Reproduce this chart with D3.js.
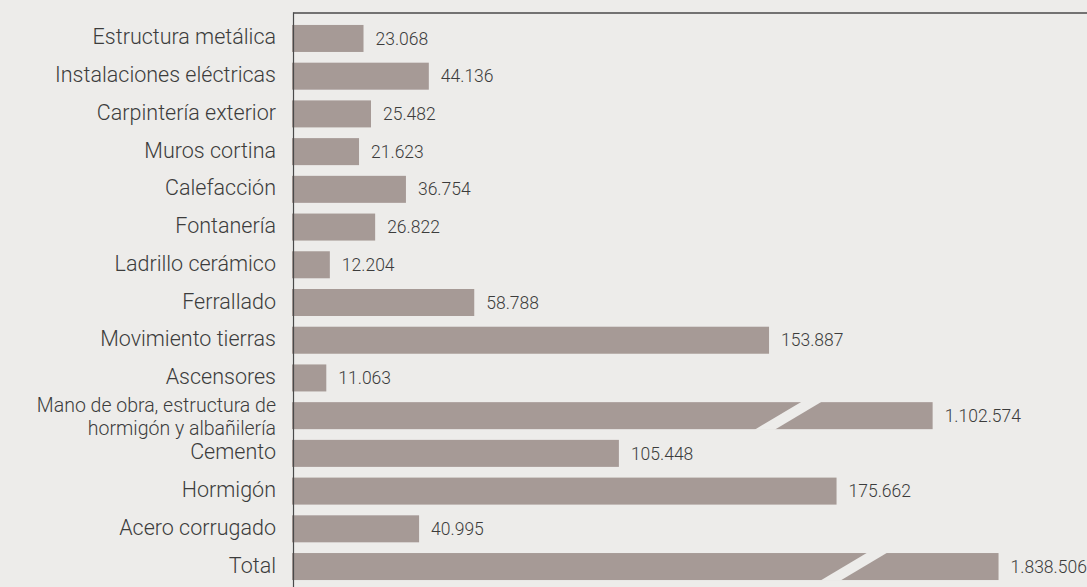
<!DOCTYPE html>
<html>
<head>
<meta charset="utf-8">
<script src="https://cdn.jsdelivr.net/npm/d3@7"></script>
<style>
  html, body { margin: 0; padding: 0; background: #edecea; }
  svg { display: block; }
  text { font-family: Roboto, "Noto Sans", sans-serif; font-weight: 300; fill: #3c3c3c; }
</style>
</head>
<body>
<svg id="chart" width="1087" height="587"></svg>
<script>
// ---- data ----
const categories = [
  "Estructura metálica",
  "Instalaciones eléctricas",
  "Carpintería exterior",
  "Muros cortina",
  "Calefacción",
  "Fontanería",
  "Ladrillo cerámico",
  "Ferrallado",
  "Movimiento tierras",
  "Ascensores",
  "Mano de obra, estructura de|hormigón y albañilería",
  "Cemento",
  "Hormigón",
  "Acero corrugado",
  "Total"
];
const values = [23.068, 44.136, 25.482, 21.623, 36.754, 26.822, 12.204, 58.788,
  153.887, 11.063, 1102.574, 105.448, 175.662, 40.995, 1838.506];
const valueLabels = ["23.068", "44.136", "25.482", "21.623", "36.754", "26.822", "12.204",
  "58.788", "153.887", "11.063", "1.102.574", "105.448", "175.662", "40.995", "1.838.506"];
const brokenBars = ["Mano de obra, estructura de|hormigón y albañilería", "Total"];
// axis break: values above breakValue are compressed
const breakValue = 180;
const maxValue = 2000;

// ---- layout ----
const W = 1087, H = 587;
const axisX = 293.5, topY = 13;
const svg = d3.select("#chart");
svg.append("rect").attr("width", W).attr("height", H).attr("fill", "#edecea");

const x = d3.scaleLinear()
  .domain([0, breakValue, maxValue])
  .range([292, 850, 1013]);

const y = d3.scaleBand()
  .domain(categories)
  .range([19.6, 585.4])
  .paddingInner(0.284)
  .paddingOuter(0.142);

const rows = categories.map((c, i) => ({ c, v: values[i], label: valueLabels[i] }));

const barColor = "#a69a96";
const bg = "#edecea";

// bars
svg.append("g").selectAll("rect").data(rows).join("rect")
  .attr("x", x(0))
  .attr("y", d => y(d.c))
  .attr("width", d => x(d.v) - x(0))
  .attr("height", y.bandwidth())
  .attr("fill", barColor);

// break gaps
svg.append("g").selectAll("path").data(rows.filter(d => brokenBars.includes(d.c))).join("path")
  .attr("d", d => {
    const e = x(d.v), t = y(d.c) - 0.5, b = y(d.c) + y.bandwidth() + 0.5;
    return `M${e - 131},${t} L${e - 111},${t} L${e - 158},${b} L${e - 178},${b} Z`;
  })
  .attr("fill", bg);

// value labels
svg.append("g").selectAll("text").data(rows).join("text")
  .attr("x", d => x(d.v) + 12)
  .attr("y", d => y(d.c) + y.bandwidth() / 2)
  .attr("dy", "0.35em")
  .attr("font-size", 17.5)
  .text(d => d.label);

// category labels
const labG = svg.append("g");
rows.forEach(d => {
  const lines = d.c.split("|");
  const multi = lines.length > 1;
  const fs = multi ? 19.5 : 21.5;
  const lh = multi ? 23 : 0;
  const cy = y(d.c) + y.bandwidth() / 2 + (multi ? 1.2 : -1.5);
  lines.forEach((ln, k) => {
    labG.append("text")
      .attr("text-anchor", "end")
      .attr("font-size", fs)
      .attr("x", 276)
      .attr("y", cy + (k - (lines.length - 1) / 2) * lh)
      .attr("dy", "0.35em")
      .text(ln);
  });
});

// frame lines
svg.append("line")
  .attr("x1", axisX).attr("x2", W).attr("y1", topY).attr("y2", topY)
  .attr("stroke", "#4a4a4a").attr("stroke-width", 1.5);
svg.append("line")
  .attr("x1", axisX).attr("x2", axisX).attr("y1", topY - 0.75).attr("y2", H)
  .attr("stroke", "#4a4a4a").attr("stroke-width", 1.2);
</script>
</body>
</html>
